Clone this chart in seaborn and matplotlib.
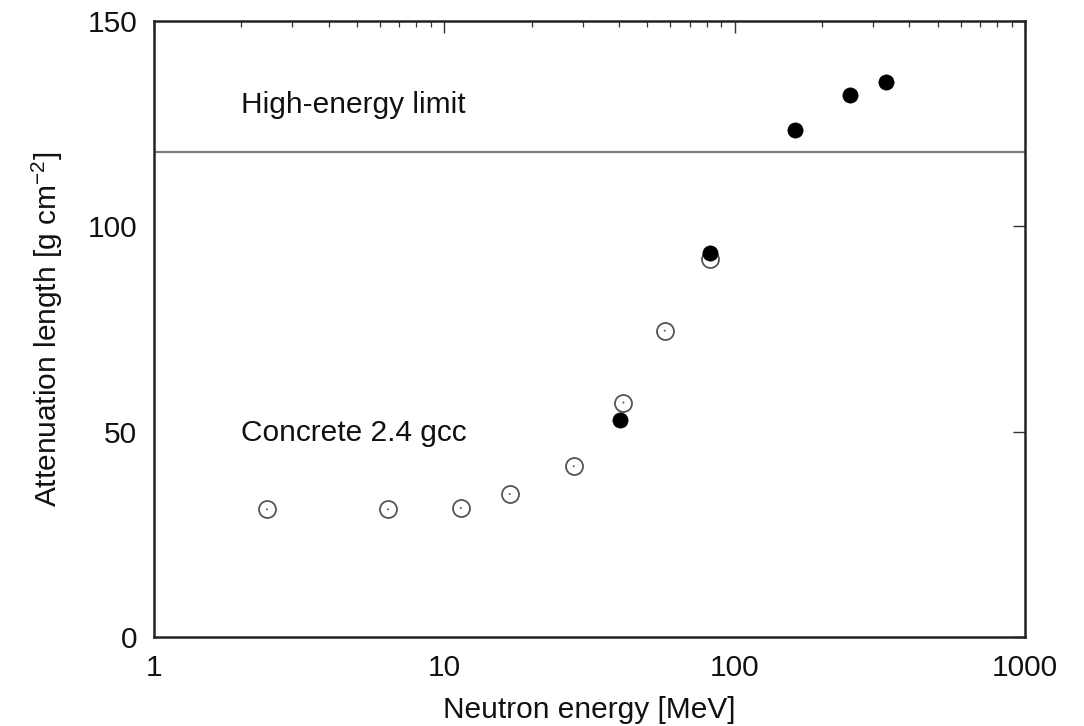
import matplotlib
matplotlib.use("Agg")
import matplotlib.pyplot as plt
import seaborn as sns
import pandas as pd
import numpy as np
from matplotlib.ticker import FixedLocator, LogLocator, NullFormatter, FixedFormatter

# Data
open_energy = [2.45, 6.4, 11.4, 16.8, 27.9, 41.4, 57.4, 82.0]
open_length = [31.1, 31.1, 31.4, 34.8, 41.6, 57.1, 74.6, 92.0]
filled_energy = [40.4, 82.0, 162.0, 249.0, 332.0]
filled_length = [52.8, 93.6, 123.5, 132.0, 135.2]
high_energy_limit = 118.0
x_ticks = [1, 10, 100, 1000]
x_tick_labels = ["1", "10", "100", "1000"]
y_ticks = [0, 50, 100, 150]
y_tick_labels = ["0", "50", "100", "150"]

sns.set_theme(style="white")
plt.rcParams["font.family"] = ["Liberation Sans", "DejaVu Sans"]

FS = 21.5

fig = plt.figure(figsize=(10.84, 7.26), dpi=100)
ax = fig.add_axes([0.142, 0.1226, 0.8036, 0.8484])

df_open = pd.DataFrame({"E": open_energy, "L": open_length})
df_filled = pd.DataFrame({"E": filled_energy, "L": filled_length})

ax.axhline(high_energy_limit, color="#808080", lw=1.6, zorder=1)

sns.scatterplot(data=df_open, x="E", y="L", ax=ax, s=150, marker="o",
                facecolor="white", edgecolor="#555555", linewidth=1.3, zorder=3)
sns.scatterplot(data=df_open, x="E", y="L", ax=ax, s=2, marker="o",
                color="#555555", edgecolor="none", zorder=4)
sns.scatterplot(data=df_filled, x="E", y="L", ax=ax, s=120, marker="o",
                color="black", edgecolor="black", linewidth=0.5, zorder=5)

ax.set_xscale("log")
ax.set_xlim(1, 1000)
ax.set_ylim(0, 150)
ax.xaxis.set_major_locator(FixedLocator(x_ticks))
ax.xaxis.set_major_formatter(FixedFormatter(x_tick_labels))
ax.xaxis.set_minor_locator(LogLocator(base=10, subs=np.arange(2, 10)))
ax.xaxis.set_minor_formatter(NullFormatter())
ax.yaxis.set_major_locator(FixedLocator(y_ticks))
ax.yaxis.set_major_formatter(FixedFormatter(y_tick_labels))

ax.tick_params(axis="both", which="major", direction="in", length=8.5, width=1,
               color="#333333", labelsize=FS, pad=12, top=True, right=True,
               labelcolor="#111111")
ax.tick_params(axis="both", which="minor", direction="in", length=4, width=0.9,
               color="#333333", top=True, right=True)

for sp in ax.spines.values():
    sp.set_visible(True)
    sp.set_color("#222222")
    sp.set_linewidth(1.8)

ax.set_xlabel("Neutron energy [MeV]", fontsize=FS, color="#111111", labelpad=10)
ax.set_ylabel("Attenuation length [g cm$^{\\mathregular{-2}}$]", fontsize=FS,
              color="#111111", labelpad=16)

ax.text(2.0, 129.6, "High-energy limit", fontsize=FS, color="#111111",
        ha="left", va="center")
ax.text(2.0, 49.6, "Concrete 2.4 gcc", fontsize=FS, color="#111111",
        ha="left", va="center")

fig.savefig("out.png", dpi=100, facecolor="white")
